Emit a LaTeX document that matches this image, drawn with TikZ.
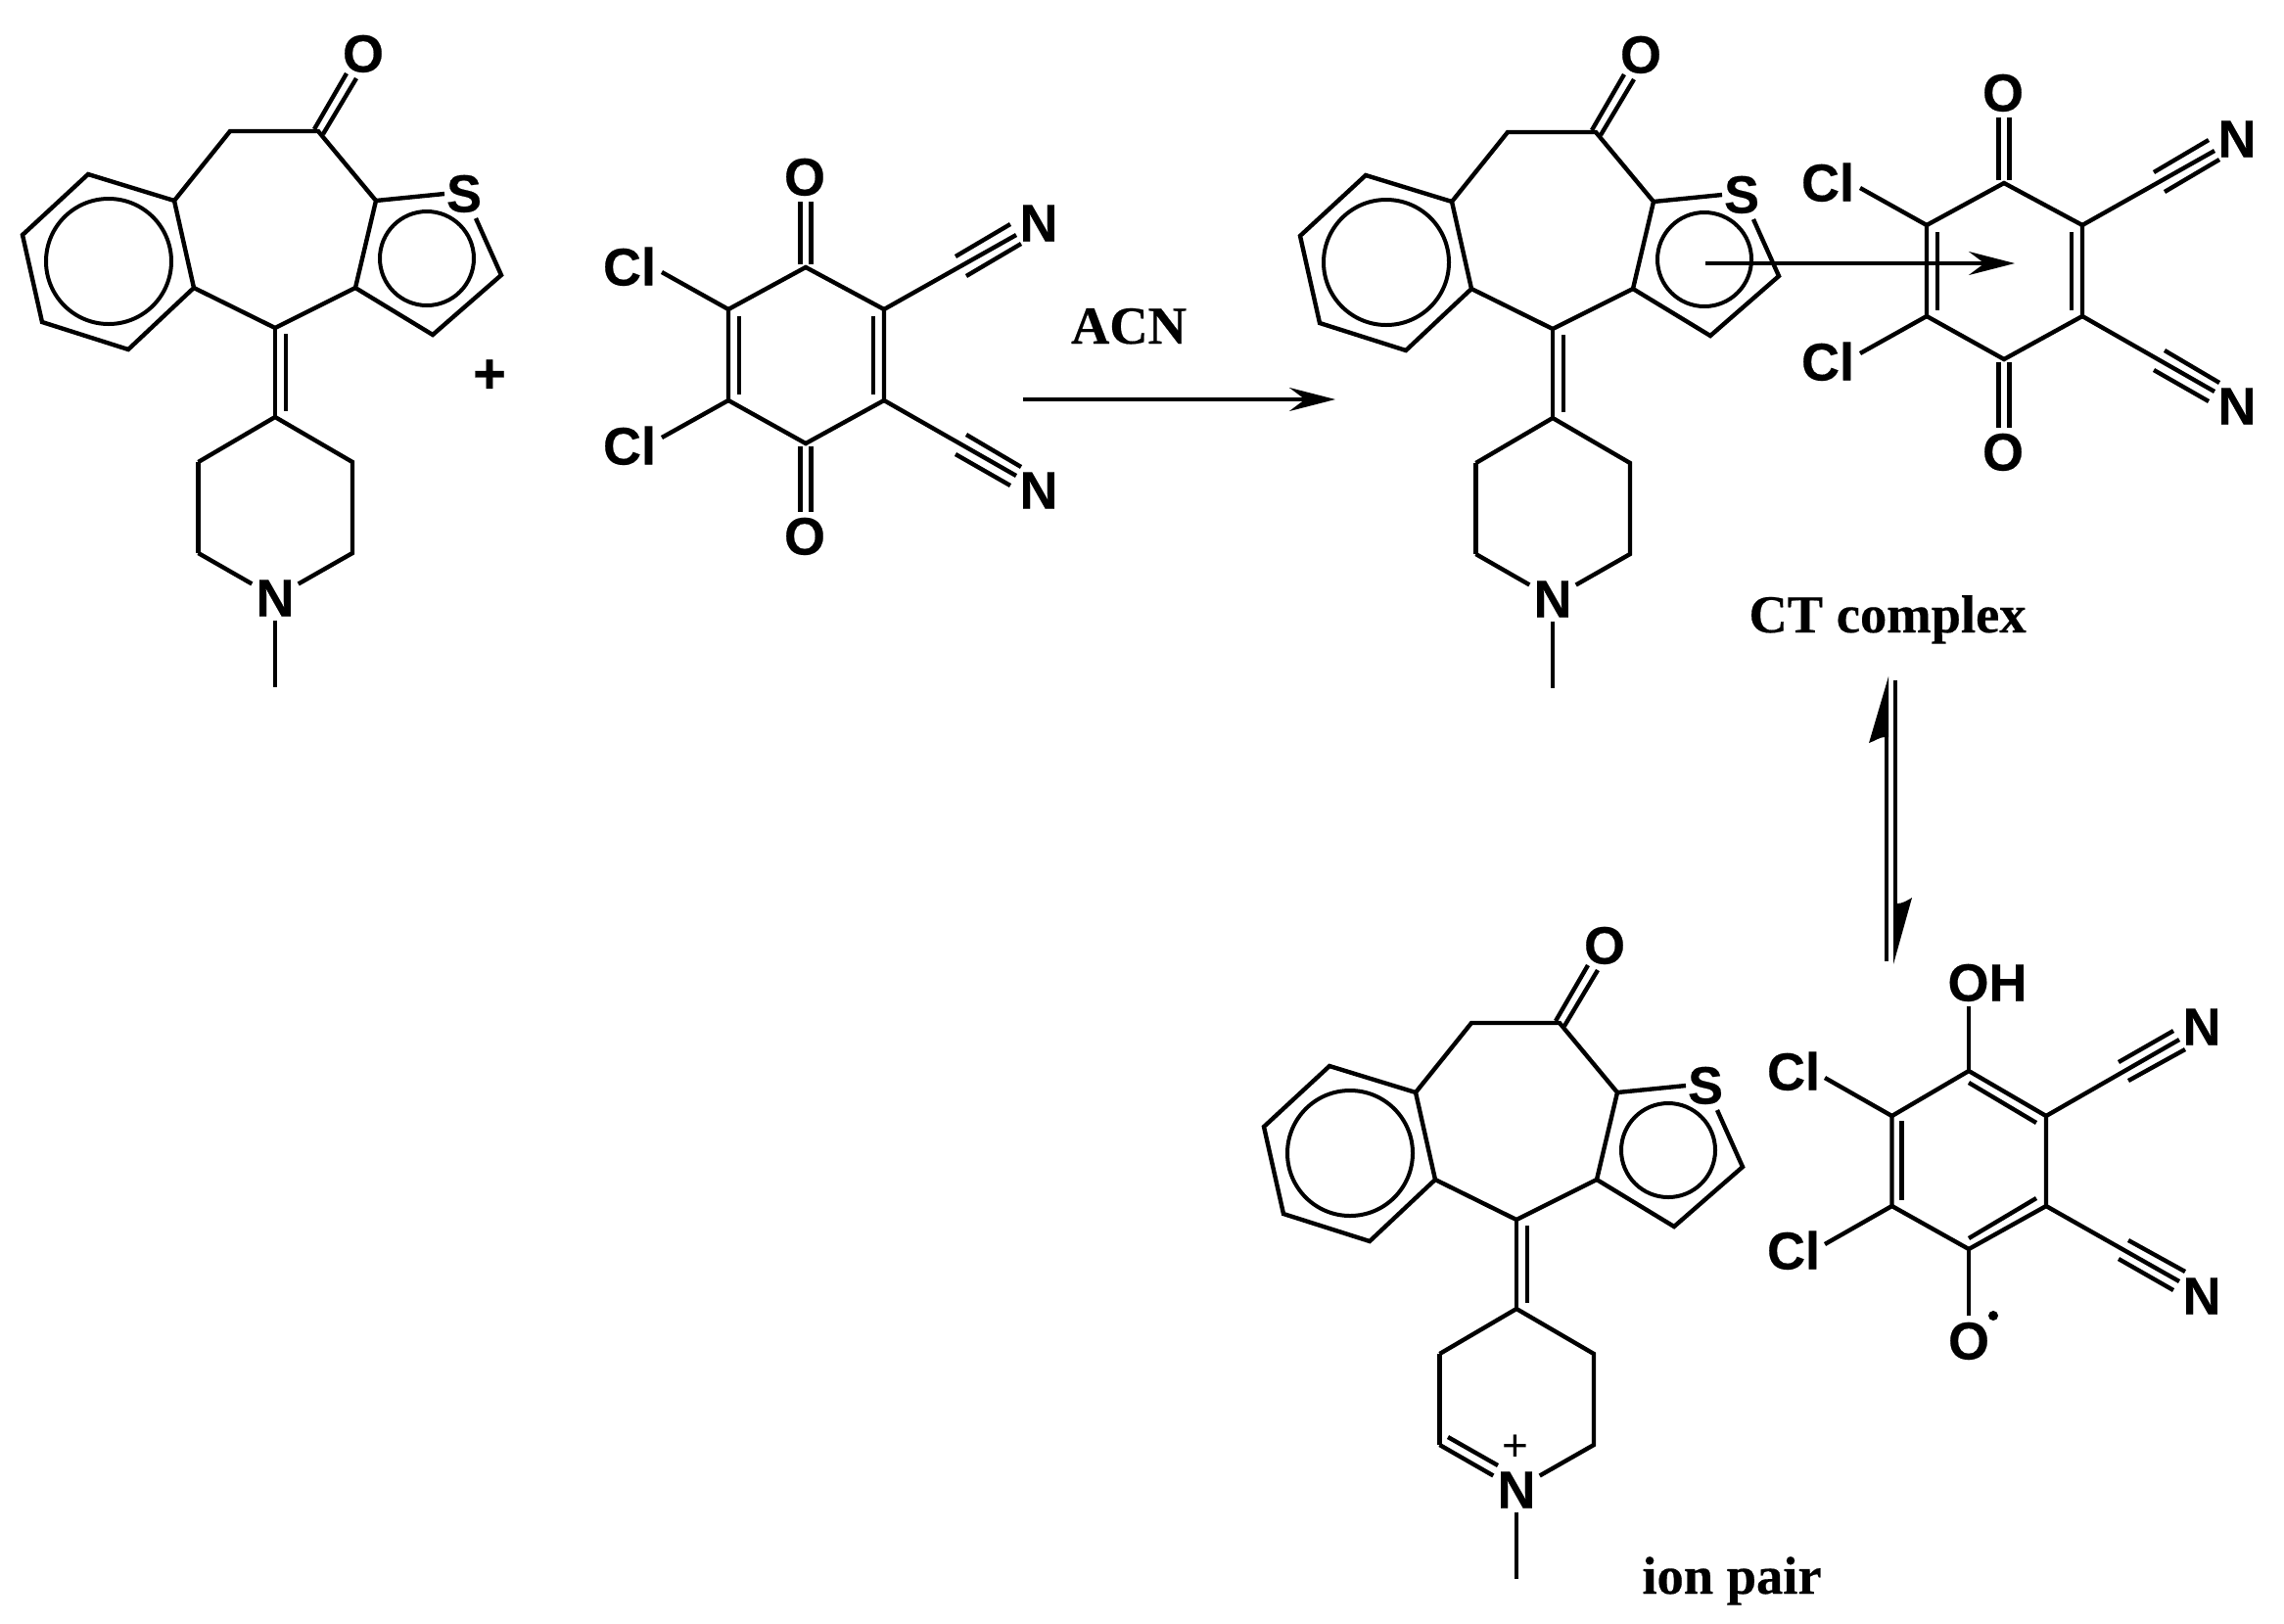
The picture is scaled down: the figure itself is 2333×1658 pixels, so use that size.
\documentclass[tikz,border=0pt]{standalone}
\usepackage{fontspec}
\setmainfont{Liberation Serif}[BoldFeatures={FakeBold=0.35}]
\setsansfont{Liberation Sans}[BoldFeatures={FakeBold=0.35}]
\usetikzlibrary{arrows.meta}
\tikzset{
  bond/.style={line width=4.4pt,line cap=butt,line join=miter},
  ringc/.style={line width=4pt},
  atom/.style={font=\fontsize{54}{60}\selectfont\sffamily\bfseries,text height=39pt,text depth=0pt,inner sep=4pt},
  lab/.style={font=\fontsize{54.5}{60}\selectfont\rmfamily\bfseries,anchor=base,inner sep=0pt},
  rxn/.style={line width=3.6pt,-{Stealth[length=47pt,width=24pt,inset=16pt]}},
  eqline/.style={line width=4pt},
}
% a bond between two named end points, placed by coordinates
\newcommand{\segm}[3]{\coordinate (#1a) at (#2); \coordinate (#1b) at (#3); \draw[bond] (#1a) -- (#1b);}
\newcommand{\tricycle}{%
  \coordinate (co) at (325,134); \coordinate (ch) at (235,134);
  \coordinate (b1) at (178,205); \coordinate (b2) at (90,178); \coordinate (b3) at (23,240);
  \coordinate (b4) at (43,329); \coordinate (b5) at (131,357); \coordinate (b6) at (198,294);
  \coordinate (ap) at (281,335); \coordinate (t1) at (384,205); \coordinate (t2) at (512,281);
  \coordinate (t3) at (442,342); \coordinate (t4) at (363,294);
  \coordinate (ctr) at (281,426); \coordinate (pl1) at (202.5,472); \coordinate (pl2) at (202.5,565);
  \coordinate (pr1) at (360,472); \coordinate (pr2) at (360,565);
  \coordinate (bc) at (111,267); \coordinate (tc) at (436,264);
  \node[atom] (O) at (371,54) {O};
  \node[atom,inner sep=0pt] (S) at (474,197) {S};
  \node[atom] (N) at (281,610) {N};
  \coordinate (sa) at (454,198); \coordinate (sb) at (486,223); \coordinate (me) at (281,702);
  \draw[bond] (b1) -- (b2) -- (b3) -- (b4) -- (b5) -- (b6) -- cycle;
  \draw[bond] (b1) -- (ch) -- (co) -- (t1) -- (t4) -- (t3) -- (t2) -- (sb);
  \draw[bond] (t1) -- (sa);
  \draw[bond] (b6) -- (ap) -- (t4);
  \draw[ringc] (bc) circle[radius=64];
  \draw[ringc] (tc) circle[radius=48];
  \segm{oa}{321,132}{354,75}
  \segm{ob}{330,137}{364,80}
  \draw[bond] (ap) -- (ctr);
  \segm{ex}{292,341}{292,420}
  \draw[bond] (pl1) -- (ctr) -- (pr1) -- (pr2) -- (N);
  \draw[bond] (pl1) -- (pl2);
  \draw[bond] (N) -- (me);
}
\newcommand{\ddq}{%
  \coordinate (q1) at (823,273); \coordinate (q2) at (903,316); \coordinate (q3) at (903,409);
  \coordinate (q4) at (823,453); \coordinate (q5) at (744,409); \coordinate (q6) at (744,316);
  \node[atom] (O1) at (822,180) {O};
  \node[atom] (O2) at (822,547) {O};
  \node[atom] (Cl1) at (643,272) {Cl};
  \node[atom] (Cl2) at (643,455) {Cl};
  \node[atom] (N1) at (1061,227) {N};
  \node[atom] (N2) at (1061,500) {N};
  \coordinate (c1) at (1038,240); \coordinate (c2) at (1038,486);
  \coordinate (x1) at (676,278); \coordinate (x2) at (676,447);
  \draw[bond] (q1) -- (q2) -- (q3) -- (q4) -- (q5) -- (q6) -- cycle;
  \draw[bond] (q6) -- (x1); \draw[bond] (q5) -- (x2);
  \draw[bond] (q2) -- (c1); \draw[bond] (q3) -- (c2);
  \segm{i1}{755,323}{755,403}
  \segm{i2}{892,323}{892,403}
  \segm{d1}{817.5,206}{817.5,270}
  \segm{d2}{828.5,206}{828.5,270}
  \segm{d3}{817.5,456}{817.5,523}
  \segm{d4}{828.5,456}{828.5,523}
  \segm{t1}{976,262}{1032,229}
  \segm{t2}{987,282}{1043,249}
  \segm{t3}{987,444}{1043,477}
  \segm{t4}{976,464}{1032,496}
}
\begin{document}
\begin{tikzpicture}[x=1pt,y=-1pt]
\useasboundingbox (0,0) rectangle (2333,1658);
% reactant
\begin{scope}[name prefix=a-]
  \tricycle
  \draw[bond] (pl2) -- (N);
\end{scope}
\node[atom,font=\fontsize{58}{60}\selectfont\sffamily\bfseries] (plus) at (500,382) {+};
\begin{scope}[name prefix=b-]
  \ddq
\end{scope}
% reaction arrow
\node[lab] (acn) at (1153,351) {ACN};
\coordinate (r1) at (1045,408); \coordinate (r2) at (1364,408);
\draw[rxn] (r1) -- (r2);
% CT complex
\begin{scope}[shift={(1305,1)},name prefix=c-]
  \tricycle
  \draw[bond] (pl2) -- (N);
\end{scope}
\begin{scope}[shift={(1224,-86)},name prefix=d-]
  \ddq
\end{scope}
\coordinate (s1) at (1742,269); \coordinate (s2) at (2058,269);
\draw[rxn] (s1) -- (s2);
\node[lab] (ct) at (1928,646) {CT complex};
% equilibrium arrows
\coordinate (e1a) at (1927,982); \coordinate (e1b) at (1927,750);
\coordinate (e2a) at (1936,695); \coordinate (e2b) at (1936,926);
\draw[eqline] (e1a) -- (e1b);
\draw[eqline] (e2a) -- (e2b);
\fill (1929,691) -- (1909,759) .. controls (1915,757) and (1920,753) .. (1925,753) -- (1929,753) -- cycle;
\fill (1934,985) -- (1953,917) .. controls (1948,920) and (1943,923) .. (1938,923) -- (1934,923) -- cycle;
% ion pair
\begin{scope}[shift={(1268,911)},name prefix=e-]
  \tricycle
  \draw[bond] (pl2) -- (N);
  \segm{dbl}{211,557}{262,586}
  \node[font=\fontsize{46}{50}\selectfont\sffamily,inner sep=0pt] (np) at (280,568) {+};
\end{scope}
\coordinate (k1) at (2011,1094); \coordinate (k2) at (2090,1140); \coordinate (k3) at (2090,1232);
\coordinate (k4) at (2011,1276); \coordinate (k5) at (1932.5,1232); \coordinate (k6) at (1932.5,1140);
\node[atom] (OH) at (2030,1003) {OH};
\node[atom] (Orad) at (2011,1369) {O};
\node[atom] (ClA) at (1832,1094) {Cl};
\node[atom] (ClB) at (1832,1277) {Cl};
\node[atom] (NA) at (2249,1048) {N};
\node[atom] (NB) at (2249,1323) {N};
\node[circle,fill,inner sep=0pt,minimum size=10pt] (rad) at (2036,1344) {};
\draw[bond] (k1) -- (k2) -- (k3) -- (k4) -- (k5) -- (k6) -- cycle;
\coordinate (k0) at (2011,1028); \coordinate (k7) at (2011,1344);
\coordinate (xa) at (1864,1101); \coordinate (xb) at (1864,1271);
\coordinate (ya) at (2226,1062); \coordinate (yb) at (2226,1309);
\draw[bond] (k1) -- (k0); \draw[bond] (k4) -- (k7);
\draw[bond] (k6) -- (xa); \draw[bond] (k5) -- (xb);
\draw[bond] (k2) -- (ya); \draw[bond] (k3) -- (yb);
\segm{m1}{2011,1106}{2080,1147}
\segm{m2}{1942.5,1145}{1942.5,1226}
\segm{m3}{2011,1265}{2080,1224}
\segm{m4}{2164,1085}{2220,1053}
\segm{m5}{2174,1104}{2232,1072}
\segm{m6}{2174,1267}{2232,1299}
\segm{m7}{2164,1286}{2220,1318}
\node[lab] (ion) at (1769,1628) {ion pair};
\end{tikzpicture}
\end{document}
